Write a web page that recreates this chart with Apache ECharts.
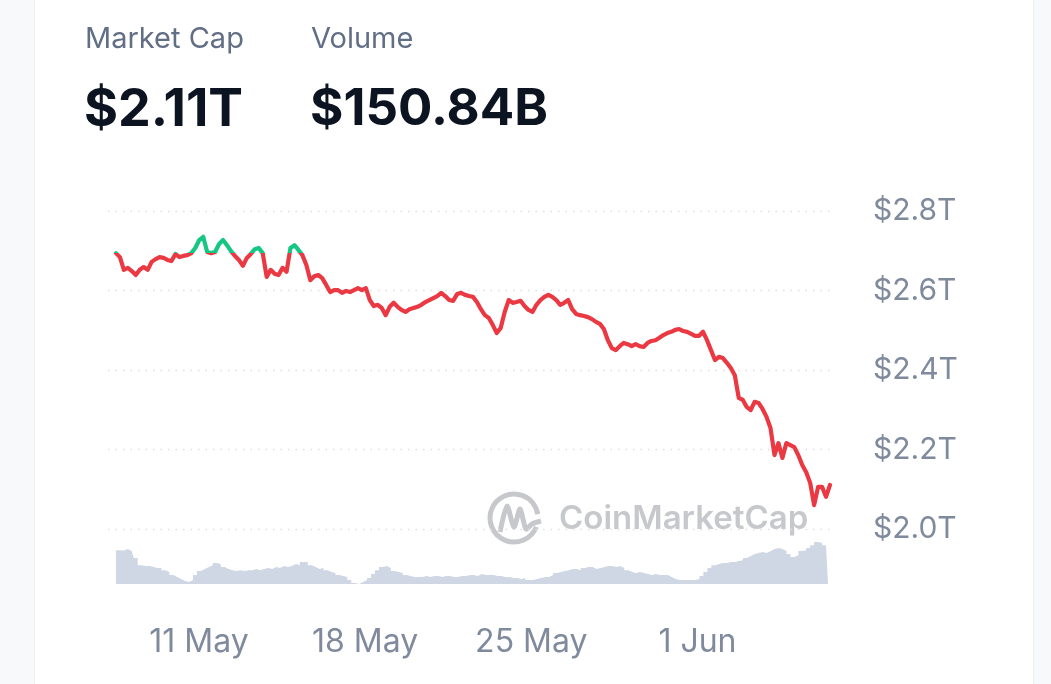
<!DOCTYPE html>
<html>
<head>
<meta charset="utf-8">
<script src="https://cdn.jsdelivr.net/npm/echarts@6/dist/echarts.min.js"></script>
<style>
  html, body { margin: 0; padding: 0; width: 1051px; height: 684px; background: #f8f9fb; overflow: hidden; }
  #card { position: absolute; left: 34px; top: 0; width: 998px; height: 684px; background: #ffffff; border-left: 1px solid #eef0f3; border-right: 1px solid #eef0f3; }
  #chart { position: absolute; left: 0; top: 0; width: 1051px; height: 684px; }
</style>
</head>
<body>
<div id="card"></div>
<div id="chart"></div>
<script>
// ---- data ----
const MARKET_CAP_LABEL = 'Market Cap';
const MARKET_CAP_VALUE = '$2.11T';
const VOLUME_LABEL = 'Volume';
const VOLUME_VALUE = '$150.84B';

// x-axis tick labels shown
const TICK_LABELS = ['11 May', '18 May', '25 May', '1 Jun'];
// y-axis ticks (trillions USD)
const Y_MIN = 2.0, Y_MAX = 2.8, Y_STEP = 0.2;
// baseline (first value) separating green / red
const BASELINE = 2.694;

// 4-hourly samples from 7 May 12:00 to 6 Jun 12:00 (two leading empty slots on the axis)
const START_UTC = Date.UTC(2024, 4, 7, 4, 0);
const STEP_HOURS = 4;
const LEADING_EMPTY = 2;

// Total market cap, trillions USD
const MCAP = [
  2.694,2.684,2.652,2.657,2.649,2.639,2.652,2.659,2.652,2.672,
  2.679,2.684,2.682,2.677,2.674,2.692,2.684,2.687,2.689,2.694,
  2.707,2.727,2.735,2.697,2.694,2.697,2.717,2.727,2.714,2.699,
  2.687,2.677,2.662,2.682,2.692,2.704,2.707,2.694,2.634,2.652,
  2.642,2.639,2.657,2.647,2.707,2.714,2.702,2.689,2.664,2.626,
  2.636,2.639,2.631,2.614,2.596,2.601,2.601,2.594,2.599,2.596,
  2.601,2.606,2.601,2.606,2.576,2.561,2.564,2.556,2.538,2.559,
  2.569,2.559,2.551,2.546,2.553,2.556,2.559,2.564,2.571,2.576,
  2.581,2.586,2.594,2.586,2.576,2.574,2.591,2.594,2.589,2.586,
  2.584,2.571,2.553,2.538,2.531,2.513,2.493,2.506,2.546,2.576,
  2.569,2.571,2.574,2.561,2.551,2.546,2.564,2.576,2.584,2.589,
  2.584,2.576,2.564,2.569,2.576,2.553,2.541,2.538,2.536,2.533,
  2.528,2.521,2.516,2.503,2.475,2.455,2.450,2.460,2.468,2.465,
  2.460,2.465,2.460,2.458,2.468,2.473,2.475,2.481,2.488,2.493,
  2.496,2.501,2.503,2.498,2.496,2.491,2.486,2.486,2.496,2.475,
  2.450,2.425,2.433,2.430,2.418,2.405,2.387,2.330,2.325,2.307,
  2.299,2.320,2.317,2.302,2.282,2.254,2.186,2.216,2.179,2.216,
  2.211,2.206,2.186,2.161,2.143,2.116,2.060,2.106,2.106,2.081,
  2.111
];

// Volume, billions USD
const VOLUME = [
  122,122,121,126,119,94,68,65,65,61,
  58,58,50,43,32,25,18,11,7,14,
  32,47,54,61,68,76,72,61,54,50,
  47,50,47,50,50,54,50,54,58,54,
  61,58,65,61,65,72,68,79,79,68,
  61,54,58,50,43,40,32,29,25,14,
  4,0,7,14,22,36,50,61,65,58,
  47,43,40,32,29,25,25,25,29,25,
  29,29,25,29,29,25,25,29,29,32,
  32,29,36,32,32,32,29,29,25,25,
  22,22,18,22,14,14,18,22,25,25,
  32,40,43,47,50,54,54,50,58,61,
  61,54,58,61,65,65,61,65,58,50,
  43,40,43,40,36,32,36,32,32,32,
  25,18,14,14,14,14,14,18,29,43,
  58,68,72,76,76,79,79,83,86,94,
  101,108,112,115,112,119,126,130,126,119,
  108,97,104,119,122,130,140,151,148,140,
  140
];
const VOL_MAX = 155;

// ---- build categories ----
const MONTHS = ['Jan','Feb','Mar','Apr','May','Jun','Jul','Aug','Sep','Oct','Nov','Dec'];
const N = MCAP.length + LEADING_EMPTY;
const categories = [];
for (let k = 0; k < N; k++) {
  const d = new Date(START_UTC + k * STEP_HOURS * 3600 * 1000);
  const hh = String(d.getUTCHours()).padStart(2, '0');
  categories.push(d.getUTCDate() + ' ' + MONTHS[d.getUTCMonth()] + ' ' + hh + ':00');
}
const mcapData = MCAP.map(function (v, i) { return [i + LEADING_EMPTY, v]; });
const volData = VOLUME.map(function (v, i) { return [i + LEADING_EMPTY, v]; });

const RED = '#ea3943', GREEN = '#16c784';
const FONT = 'Inter, "Noto Sans", sans-serif';

const chart = echarts.init(document.getElementById('chart'), null, { renderer: 'canvas' });
chart.setOption({
  animation: false,
  backgroundColor: 'transparent',
  textStyle: { fontFamily: FONT },
  grid: [
    { left: 108, right: 221, top: 211, bottom: 155 },
    { left: 108, right: 223, top: 541, bottom: 100 }
  ],
  xAxis: [
    { type: 'category', gridIndex: 0, data: categories, boundaryGap: false,
      axisLine: { show: false }, axisTick: { show: false }, axisLabel: { show: false }, splitLine: { show: false } },
    { type: 'category', gridIndex: 1, data: categories, boundaryGap: false,
      axisLine: { show: false }, axisTick: { show: false }, splitLine: { show: false },
      axisLabel: {
        show: true, margin: 42, fontSize: 32, color: '#808a9d', fontFamily: FONT,
        interval: function (idx, val) { return val.endsWith(' 00:00') && TICK_LABELS.indexOf(val.slice(0, -6)) >= 0; },
        formatter: function (val) { return val.slice(0, -6); }
      } }
  ],
  yAxis: [
    { type: 'value', gridIndex: 0, position: 'right', min: Y_MIN, max: Y_MAX, interval: Y_STEP,
      axisLine: { show: false }, axisTick: { show: false },
      axisLabel: { margin: 43, fontSize: 30, color: '#808a9d', fontFamily: FONT, align: 'left',
        formatter: function (v) { return '$' + v.toFixed(1) + 'T'; } },
      splitLine: { show: true, lineStyle: { color: '#dcdfe5', width: 1.3, type: [1.5, 6] } } },
    { type: 'value', gridIndex: 1, min: 0, max: VOL_MAX, show: false,
      axisLabel: { show: false }, splitLine: { show: false } }
  ],
  visualMap: {
    show: false, type: 'piecewise', seriesIndex: 0, dimension: 1,
    pieces: [ { gt: BASELINE, lte: 4, color: GREEN }, { gte: 1, lte: BASELINE, color: RED } ],
    outOfRange: { color: RED }
  },
  graphic: [
    { type: 'text', left: 85, top: 25, z: 10, style: { text: MARKET_CAP_LABEL, font: '400 29px ' + FONT, fill: '#616e85' } },
    { type: 'text', left: 311, top: 25, z: 10, style: { text: VOLUME_LABEL, font: '400 29px ' + FONT, fill: '#616e85' } },
    { type: 'text', left: 84, top: 84, z: 10, style: { text: MARKET_CAP_VALUE, font: '700 52px ' + FONT, fill: '#0d1421' } },
    { type: 'text', left: 310, top: 84, z: 10, style: { text: VOLUME_VALUE, font: '700 51px ' + FONT, fill: '#0d1421' } },
    // CoinMarketCap watermark
    { type: 'arc', z: 0, shape: { cx: 514, cy: 518, r: 24, startAngle: Math.PI * 0.12, endAngle: Math.PI * 1.95 },
      style: { stroke: '#c6c8cc', lineWidth: 5, fill: null } },
    { type: 'polyline', z: 0, shape: { points: [[500, 532], [507, 506], [514, 527], [520, 509], [526, 529], [532, 524], [541, 521]], smooth: 0.25 },
      style: { stroke: '#c6c8cc', lineWidth: 5, fill: null } },
    { type: 'text', left: 559, top: 503, z: 0, style: { text: 'CoinMarketCap', font: '600 33px ' + FONT, fill: '#c6c8cc' } }
  ],
  series: [
    { type: 'line', xAxisIndex: 0, yAxisIndex: 0, data: mcapData, showSymbol: false, z: 5,
      lineStyle: { width: 4.2, join: 'round', cap: 'round' } },
    { type: 'line', xAxisIndex: 1, yAxisIndex: 1, data: volData, showSymbol: false, step: 'middle',
      lineStyle: { width: 0 }, itemStyle: { color: '#cfd6e4' }, areaStyle: { color: '#cfd6e4', opacity: 1 } }
  ]
});
</script>
</body>
</html>
